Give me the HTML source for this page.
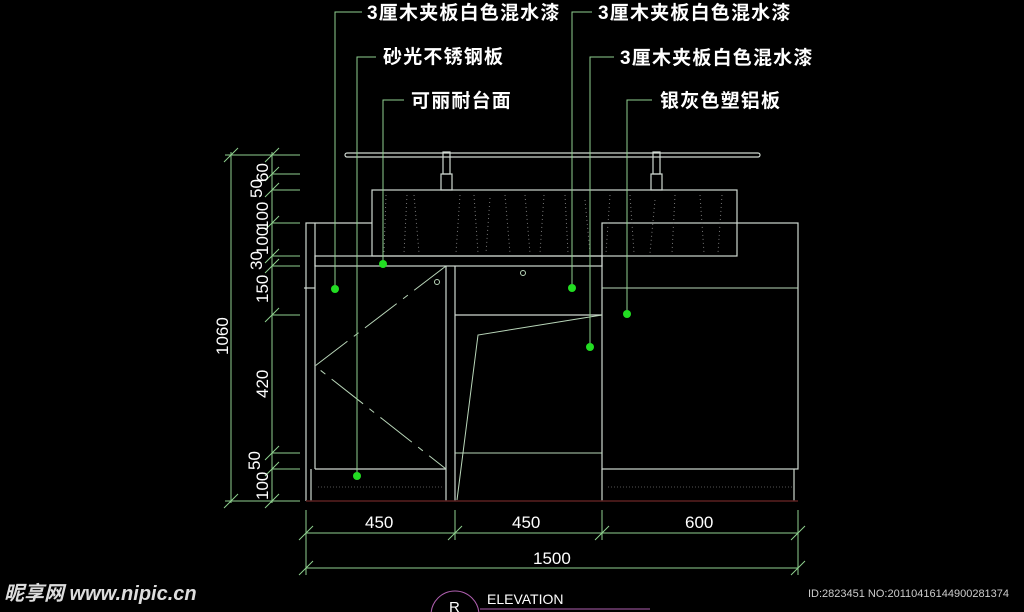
<!DOCTYPE html>
<html><head><meta charset="utf-8"><style>
html,body{margin:0;padding:0;background:#000;width:1024px;height:612px;overflow:hidden}
svg{display:block}
text{font-family:"Liberation Sans","Noto Sans CJK SC",sans-serif}
</style></head><body>
<svg width="1024" height="612" viewBox="0 0 1024 612">
<g stroke="#cfd8d0" stroke-width="1.2" fill="none">
 <rect x="345" y="153" width="415" height="4" rx="2"/>
 <rect x="443" y="152" width="7" height="22"/><rect x="441" y="174" width="11" height="16"/>
 <rect x="653" y="152" width="7" height="22"/><rect x="651" y="174" width="11" height="16"/>
 <rect x="372" y="190" width="365" height="66"/>
 <rect x="315" y="256" width="287" height="10"/>
 <polyline points="372,223 306,223 306,501"/>
 <line x1="315" y1="223" x2="315" y2="469"/>
 <line x1="315" y1="469" x2="446" y2="469"/>
 <line x1="311" y1="469" x2="311" y2="501"/>
 <line x1="446" y1="266" x2="446" y2="501"/>
 <line x1="455" y1="266" x2="455" y2="501"/>
 <line x1="455" y1="315" x2="602" y2="315"/>
 <rect x="602" y="223" width="196" height="246"/>
 <line x1="794" y1="469" x2="794" y2="501"/>
 <line x1="602" y1="469" x2="602" y2="501"/>
 <line x1="304" y1="288" x2="315" y2="288"/>
</g>
<g stroke="#777" stroke-width="1" stroke-dasharray="1,3" fill="none">
 <line x1="386" y1="195" x2="384" y2="253"/><line x1="407" y1="195" x2="404" y2="253"/>
 <line x1="414" y1="195" x2="419" y2="253"/><line x1="460" y1="195" x2="456" y2="253"/>
 <line x1="474" y1="195" x2="478" y2="253"/><line x1="490" y1="198" x2="486" y2="253"/>
 <line x1="505" y1="195" x2="510" y2="253"/><line x1="525" y1="195" x2="530" y2="253"/>
 <line x1="544" y1="195" x2="540" y2="253"/><line x1="565" y1="195" x2="568" y2="253"/>
 <line x1="585" y1="200" x2="590" y2="253"/><line x1="610" y1="195" x2="606" y2="253"/>
 <line x1="630" y1="195" x2="634" y2="253"/><line x1="655" y1="200" x2="650" y2="253"/>
 <line x1="675" y1="195" x2="672" y2="253"/><line x1="700" y1="195" x2="704" y2="253"/>
 <line x1="722" y1="195" x2="718" y2="253"/>
</g>
<g stroke="#b9d6b9" stroke-width="1" fill="none">
 <line x1="602" y1="288" x2="798" y2="288"/>
 <line x1="455" y1="453" x2="602" y2="453"/>
 <polyline points="602,315 478,335 457,500"/>
 <polyline points="446,266 315,366 446,469" stroke-dasharray="40,8,6,8"/>
 <circle cx="437" cy="282" r="2.5"/><circle cx="523" cy="273" r="2.5"/>
</g>
<g stroke="#555" stroke-width="1" stroke-dasharray="1,2">
 <line x1="318" y1="487" x2="444" y2="487"/><line x1="608" y1="487" x2="794" y2="487"/>
</g>
<line x1="306" y1="501" x2="798" y2="501" stroke="#5a2020" stroke-width="1.5"/>
<g stroke="#8fd08f" stroke-width="1" fill="none">
 <line x1="231" y1="152" x2="231" y2="503"/>
 <line x1="272" y1="152" x2="272" y2="503"/>
 <line x1="225" y1="155" x2="300" y2="155"/>
 <line x1="265" y1="162" x2="279" y2="148"/>
 <line x1="272" y1="174" x2="300" y2="174"/><line x1="272" y1="190" x2="300" y2="190"/>
 <line x1="272" y1="223" x2="300" y2="223"/><line x1="272" y1="256" x2="300" y2="256"/>
 <line x1="272" y1="266" x2="300" y2="266"/><line x1="272" y1="315" x2="300" y2="315"/>
 <line x1="272" y1="453" x2="300" y2="453"/><line x1="272" y1="469" x2="300" y2="469"/>
 <line x1="225" y1="501" x2="300" y2="501"/>
 <line x1="224" y1="162" x2="238" y2="148"/><line x1="224" y1="508" x2="238" y2="494"/>
 <line x1="265" y1="181" x2="279" y2="167"/><line x1="265" y1="197" x2="279" y2="183"/>
 <line x1="265" y1="230" x2="279" y2="216"/><line x1="265" y1="263" x2="279" y2="249"/>
 <line x1="265" y1="273" x2="279" y2="259"/><line x1="265" y1="322" x2="279" y2="308"/>
 <line x1="265" y1="460" x2="279" y2="446"/><line x1="265" y1="476" x2="279" y2="462"/>
 <line x1="265" y1="508" x2="279" y2="494"/>
 <line x1="306" y1="533" x2="798" y2="533"/><line x1="306" y1="568" x2="798" y2="568"/>
 <line x1="306" y1="510" x2="306" y2="575"/><line x1="455" y1="510" x2="455" y2="540"/>
 <line x1="602" y1="510" x2="602" y2="540"/><line x1="798" y1="510" x2="798" y2="575"/>
 <line x1="299" y1="540" x2="313" y2="526"/><line x1="448" y1="540" x2="462" y2="526"/>
 <line x1="595" y1="540" x2="609" y2="526"/><line x1="791" y1="540" x2="805" y2="526"/>
 <line x1="299" y1="575" x2="313" y2="561"/><line x1="791" y1="575" x2="805" y2="561"/>
 <polyline points="335,288 335,12 362,12"/>
 <polyline points="357,476 357,57 376,57"/>
 <polyline points="383,264 383,100 404,100"/>
 <polyline points="572,288 572,12 592,12"/>
 <polyline points="590,347 590,57 614,57"/>
 <polyline points="627,314 627,100 652,100"/>
</g>
<g fill="#22dd22">
 <circle cx="335" cy="289" r="4"/><circle cx="357" cy="476" r="4"/><circle cx="383" cy="264" r="4"/>
 <circle cx="572" cy="288" r="4"/><circle cx="590" cy="347" r="4"/><circle cx="627" cy="314" r="4"/>
</g>
<g fill="#fff" font-size="19" font-weight="bold" letter-spacing="1.2">
 <text x="367" y="19">3厘木夹板白色混水漆</text>
 <text x="598" y="19">3厘木夹板白色混水漆</text>
 <text x="383" y="63">砂光不锈钢板</text>
 <text x="620" y="64">3厘木夹板白色混水漆</text>
 <text x="411" y="107">可丽耐台面</text>
 <text x="660" y="107">银灰色塑铝板</text>
</g>
<g fill="#fff" font-size="17">
 <text x="365" y="528">450</text><text x="512" y="528">450</text><text x="685" y="528">600</text>
 <text x="533" y="564">1500</text>
 <text transform="translate(228,355) rotate(-90)">1060</text>
 <text transform="translate(268,182) rotate(-90)">60</text>
 <text transform="translate(262,198) rotate(-90)">50</text>
 <text transform="translate(268,230) rotate(-90)">100</text>
 <text transform="translate(268,255) rotate(-90)">100</text>
 <text transform="translate(262,270) rotate(-90)">30</text>
 <text transform="translate(268,303) rotate(-90)">150</text>
 <text transform="translate(268,398) rotate(-90)">420</text>
 <text transform="translate(260,470) rotate(-90)">50</text>
 <text transform="translate(268,500) rotate(-90)">100</text>
</g>
<circle cx="455" cy="615" r="24" fill="none" stroke="#b060b0" stroke-width="1"/>
<line x1="480" y1="609" x2="650" y2="609" stroke="#b060b0"/>
<text x="449" y="612" fill="#fff" font-size="15">R</text>
<text x="487" y="604" fill="#fff" font-size="14">ELEVATION</text>
<text x="4" y="600" fill="#ddd" font-size="20" font-style="italic" font-weight="bold">昵享网 www.nipic.cn</text>
<text x="808" y="597" fill="#ccc" font-size="11">ID:2823451 NO:20110416144900281374</text>
</svg>
</body></html>
